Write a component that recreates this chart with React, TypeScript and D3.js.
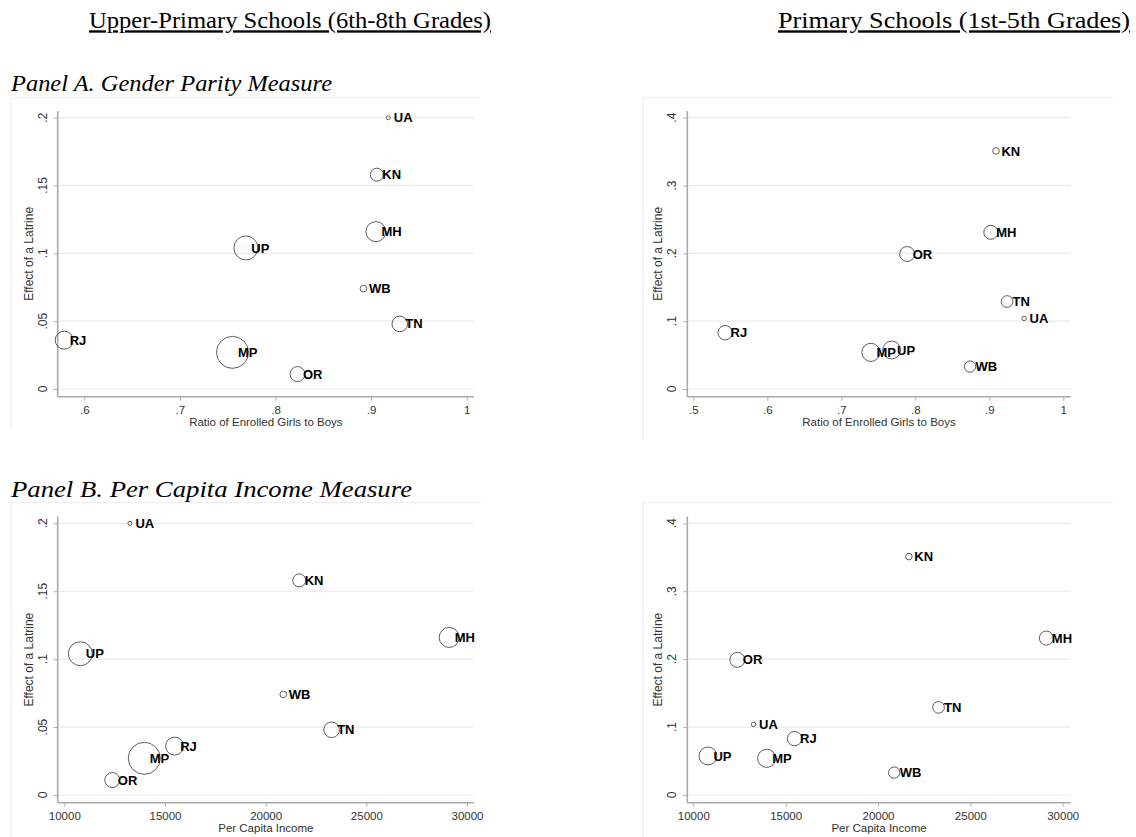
import * as d3 from "d3";
import { useEffect, useRef } from "react";

// states in the order they are listed below
const states = ["UA", "KN", "MH", "UP", "WB", "TN", "RJ", "MP", "OR"];

// upper-primary (6th-8th)
const effectUpper = [0.2, 0.158, 0.116, 0.104, 0.074, 0.048, 0.036, 0.027, 0.011];
const girlsBoysUpper = [0.918, 0.906, 0.905, 0.769, 0.892, 0.93, 0.579, 0.755, 0.823];
const weightUpper = [4, 42, 100, 144, 11, 61, 81, 256, 56];

// primary (1st-5th)
const effectPrimary = [0.104, 0.351, 0.231, 0.0575, 0.033, 0.129, 0.083, 0.054, 0.199];
const girlsBoysPrimary = [0.947, 0.909, 0.902, 0.768, 0.874, 0.924, 0.543, 0.74, 0.789];
const weightPrimary = [5, 11, 49, 80, 32, 34, 52, 82, 56];

// per capita income, same for both school levels
const income = [13262, 21668, 29116, 10795, 20874, 23277, 15481, 13972, 12383];

const yTicksUpper = [0, 0.05, 0.1, 0.15, 0.2];
const yTicksPrimary = [0, 0.1, 0.2, 0.3, 0.4];
const xTicksGirlsUpper = [0.6, 0.7, 0.8, 0.9, 1];
const xTicksGirlsPrimary = [0.5, 0.6, 0.7, 0.8, 0.9, 1];
const xTicksIncome = [10000, 15000, 20000, 25000, 30000];

const stataNum = (v: number) => {
  const s = d3.format("~g")(v);
  return s.replace(/^0\./, ".");
};

type Panel = {
  xs: number[];
  ys: number[];
  w: number[];
  xTicks: number[];
  yTicks: number[];
  xTitle: string;
  // frame in pixels
  left: number; // y-axis line
  right: number; // end of plot region
  top: number; // top of y-axis line
  bottom: number; // x-axis line
  xMap: [number, number, number, number]; // domain lo, hi -> pixel lo, hi
  yMap: [number, number, number, number];
  boxLeft: number;
  boxTop: number;
  boxBottom: number;
};

const panels: Panel[] = [
  {
    xs: girlsBoysUpper, ys: effectUpper, w: weightUpper,
    xTicks: xTicksGirlsUpper, yTicks: yTicksUpper,
    xTitle: "Ratio of Enrolled Girls to Boys",
    left: 57.7, right: 474, top: 111, bottom: 396.7,
    xMap: [0.6, 1, 84.3, 466.7], yMap: [0, 0.2, 389, 117.7],
    boxLeft: 11, boxTop: 97.7, boxBottom: 430,
  },
  {
    xs: girlsBoysPrimary, ys: effectPrimary, w: weightPrimary,
    xTicks: xTicksGirlsPrimary, yTicks: yTicksPrimary,
    xTitle: "Ratio of Enrolled Girls to Boys",
    left: 687.3, right: 1070.7, top: 111, bottom: 396.7,
    xMap: [0.5, 1, 693.3, 1063.3], yMap: [0, 0.4, 389, 117.7],
    boxLeft: 643.3, boxTop: 97.7, boxBottom: 440,
  },
  {
    xs: income, ys: effectUpper, w: weightUpper,
    xTicks: xTicksIncome, yTicks: yTicksUpper,
    xTitle: "Per Capita Income",
    left: 57.7, right: 474, top: 516.6, bottom: 802.7,
    xMap: [10000, 30000, 64.3, 467], yMap: [0, 0.2, 795, 523.3],
    boxLeft: 11, boxTop: 502.7, boxBottom: 837,
  },
  {
    xs: income, ys: effectPrimary, w: weightPrimary,
    xTicks: xTicksIncome, yTicks: yTicksPrimary,
    xTitle: "Per Capita Income",
    left: 687.3, right: 1070.7, top: 516.6, bottom: 802.7,
    xMap: [10000, 30000, 693.3, 1062.7], yMap: [0, 0.4, 795, 523.3],
    boxLeft: 643.3, boxTop: 502.7, boxBottom: 837,
  },
];

const rScale = d3.scaleSqrt().domain([0, 256]).range([0, 16]);

const App = () => {
  const svgRef = useRef<SVGSVGElement>(null);

  useEffect(() => {
    const svg = d3.select(svgRef.current);
    svg.selectAll("*").remove();

    const serif = "'Liberation Serif', 'Times New Roman', serif";
    const sans = "'Liberation Sans', Arial, sans-serif";

    const heading = (x: number, y: number, len: number, txt: string, size: number, italic: boolean, under: boolean) =>
      svg.append("text").attr("x", x).attr("y", y)
        .attr("font-family", serif).attr("font-size", size)
        .attr("font-style", italic ? "italic" : "normal")
        .attr("text-decoration", under ? "underline" : "none")
        .attr("textLength", len).attr("lengthAdjust", "spacingAndGlyphs")
        .text(txt);
    heading(89, 28.3, 402, "Upper-Primary Schools (6th-8th Grades)", 23.5, false, true);
    heading(778, 28.3, 352, "Primary Schools (1st-5th Grades)", 24, false, true);
    heading(11, 90.7, 321, "Panel A. Gender Parity Measure", 23.5, true, false);
    heading(11, 497.3, 401, "Panel B. Per Capita Income Measure", 23.5, true, false);

    panels.forEach((p) => {
      const x = d3.scaleLinear().domain([p.xMap[0], p.xMap[1]]).range([p.xMap[2], p.xMap[3]]);
      const y = d3.scaleLinear().domain([p.yMap[0], p.yMap[1]]).range([p.yMap[2], p.yMap[3]]);

      const g = svg.append("g");

      // faint graph region outline
      g.append("path")
        .attr("d", `M${p.boxLeft},${p.boxBottom}V${p.boxTop}H${p.boxLeft + 470}`)
        .attr("fill", "none").attr("stroke", "#ececec").attr("stroke-width", 1);

      // gridlines
      g.selectAll(".grid").data(p.yTicks).join("line")
        .attr("x1", p.left).attr("x2", p.right)
        .attr("y1", (d) => y(d)).attr("y2", (d) => y(d))
        .attr("stroke", "#eaeaea").attr("stroke-width", 1.2);

      // y axis
      const yAxis = d3.axisLeft(y).tickValues(p.yTicks).tickSize(4).tickFormat((d) => stataNum(+d));
      const ya = g.append("g").attr("transform", `translate(${p.left},0)`).call(yAxis);
      ya.select(".domain").remove();
      ya.selectAll("line").attr("stroke", "#999").attr("stroke-width", 0.8);
      ya.selectAll("text").remove();
      g.append("line").attr("x1", p.left).attr("x2", p.left).attr("y1", p.top).attr("y2", p.bottom)
        .attr("stroke", "#aaa").attr("stroke-width", 1.6);
      g.selectAll(".ytl").data(p.yTicks).join("text")
        .attr("transform", (d) => `translate(${p.left - 11},${y(d)}) rotate(-90)`)
        .attr("text-anchor", "middle").attr("font-family", sans).attr("font-size", 12)
        .attr("fill", "#333").text((d) => stataNum(d));
      g.append("text")
        .attr("transform", `translate(${p.left - 25},${(p.top + p.bottom) / 2}) rotate(-90)`)
        .attr("text-anchor", "middle").attr("font-family", sans).attr("font-size", 12)
        .attr("fill", "#333").text("Effect of a Latrine");

      // x axis
      const xAxis = d3.axisBottom(x).tickValues(p.xTicks).tickSize(4).tickFormat((d) => stataNum(+d));
      const xa = g.append("g").attr("transform", `translate(0,${p.bottom})`).call(xAxis);
      xa.select(".domain").remove();
      xa.selectAll("line").attr("stroke", "#999").attr("stroke-width", 0.8);
      xa.selectAll("text").attr("font-family", sans).attr("font-size", 11.5).attr("fill", "#333")
        .attr("dy", null).attr("y", 17);
      g.append("line").attr("x1", p.left).attr("x2", p.right).attr("y1", p.bottom).attr("y2", p.bottom)
        .attr("stroke", "#aaa").attr("stroke-width", 1.6);
      g.append("text").attr("x", (p.left + p.right) / 2).attr("y", p.bottom + 29.5)
        .attr("text-anchor", "middle").attr("font-family", sans).attr("font-size", 11.5)
        .attr("fill", "#333").text(p.xTitle);

      const pts = states.map((s, i) => ({ s, x: p.xs[i], y: p.ys[i], w: p.w[i] }));

      g.selectAll(".bub").data(pts).join("circle")
        .attr("cx", (d) => x(d.x)).attr("cy", (d) => y(d.y))
        .attr("r", (d) => rScale(d.w))
        .attr("fill", "none").attr("stroke", "#4a4a4a").attr("stroke-width", 0.9);

      g.selectAll(".lab").data(pts).join("text")
        .attr("x", (d) => x(d.x) + 5.5).attr("y", (d) => y(d.y) + 4.6)
        .attr("font-family", sans).attr("font-size", 13).attr("font-weight", "bold")
        .attr("fill", "#000").text((d) => d.s);
    });
  }, []);

  return (
    <div style={{ position: "absolute", left: 0, top: 0 }}>
      <svg ref={svgRef} width={1136} height={837} style={{ display: "block", background: "#fff" }} />
    </div>
  );
};

export default App;
